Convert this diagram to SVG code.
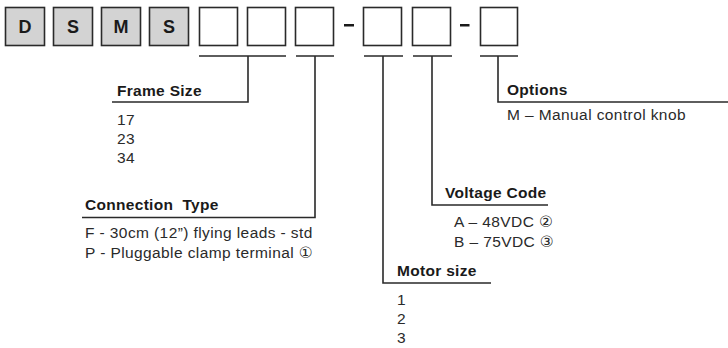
<svg xmlns="http://www.w3.org/2000/svg" width="728" height="348" viewBox="0 0 728 348">
<style>
.box{fill:#fff;stroke:#2a2a2a;stroke-width:1.6}
.gbox{fill:#d3d3d3;stroke:#2a2a2a;stroke-width:1.6}
.code{font-family:"Liberation Sans",Arial,sans-serif;font-weight:bold;font-size:18px;fill:#1a1a1a;text-anchor:middle}
.ln{stroke:#2a2a2a;stroke-width:1.6;fill:none}
.h{font-family:"Liberation Sans",Arial,sans-serif;font-weight:bold;font-size:15.5px;letter-spacing:0.3px;fill:#1a1a1a}
.t{font-family:"Liberation Sans","DejaVu Sans",Arial,sans-serif;font-size:15.5px;letter-spacing:0.4px;fill:#2a2a2a}
</style>
<rect width="728" height="348" fill="#fff"/>
<g id="code">
<g id="box-D"><rect class="gbox" x="5.5" y="7.5" width="39" height="38"/><text class="code" x="25" y="33">D</text></g>
<g id="box-S1"><rect class="gbox" x="53.5" y="7.5" width="39" height="38"/><text class="code" x="73" y="33">S</text></g>
<g id="box-M"><rect class="gbox" x="101.5" y="7.5" width="39" height="38"/><text class="code" x="121" y="33">M</text></g>
<g id="box-S2"><rect class="gbox" x="149.5" y="7.5" width="39" height="38"/><text class="code" x="169" y="33">S</text></g>
<g id="box-5"><rect class="box" x="199.5" y="7.5" width="38" height="38"/></g>
<g id="box-6"><rect class="box" x="247.5" y="7.5" width="38" height="38"/></g>
<g id="box-7"><rect class="box" x="295.5" y="7.5" width="38" height="38"/></g>
<g id="dash-1"><rect x="344" y="24" width="10" height="2.5" fill="#1a1a1a"/></g>
<g id="box-8"><rect class="box" x="363.5" y="7.5" width="38" height="38"/></g>
<g id="box-9"><rect class="box" x="412.5" y="7.5" width="38" height="38"/></g>
<g id="dash-2"><rect x="460" y="24" width="9.5" height="2.5" fill="#1a1a1a"/></g>
<g id="box-10"><rect class="box" x="480.5" y="7.5" width="37" height="38"/></g>
</g>
<g id="connectors">
<path class="ln" d="M199 56H286M248 56V102H112"/>
<path class="ln" d="M296 56H334M315 56V217.5H82"/>
<path class="ln" d="M364 56H403M383 56V283H491"/>
<path class="ln" d="M413 56H452M432 56V205H548"/>
<path class="ln" d="M480 56H518M498 56V102H728"/>
</g>
<g id="frame-size">
<text class="h" x="117" y="96">Frame Size</text>
<text class="t" x="117" y="125">17</text>
<text class="t" x="117" y="144">23</text>
<text class="t" x="117" y="163">34</text>
</g>
<g id="connection-type">
<text class="h" x="85" y="210" xml:space="preserve">Connection  Type</text>
<text class="t" x="85" y="238">F - 30cm (12”) flying leads - std</text>
<text class="t" x="85" y="258">P - Pluggable clamp terminal ①</text>
</g>
<g id="motor-size">
<text class="h" x="397" y="276">Motor size</text>
<text class="t" x="397" y="305">1</text>
<text class="t" x="397" y="324">2</text>
<text class="t" x="397" y="343">3</text>
</g>
<g id="voltage-code">
<text class="h" x="445" y="198">Voltage Code</text>
<text class="t" x="454" y="227">A – 48VDC ②</text>
<text class="t" x="454" y="247">B – 75VDC ③</text>
</g>
<g id="options">
<text class="h" x="507" y="95">Options</text>
<text class="t" x="507" y="120">M – Manual control knob</text>
</g>
</svg>
